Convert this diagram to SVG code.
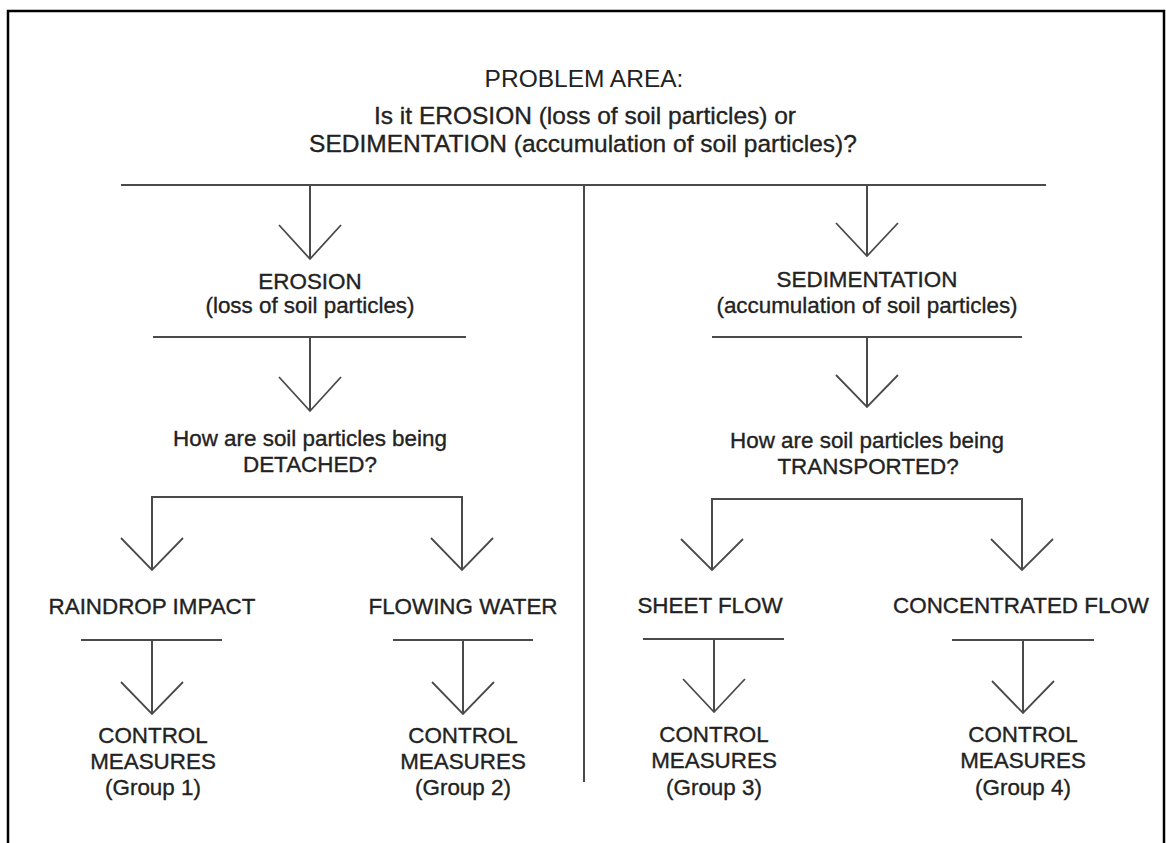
<svg xmlns="http://www.w3.org/2000/svg" width="1166" height="843" viewBox="0 0 1166 843">
  <style>
    .t { font-family: "Liberation Sans", Arial, Helvetica, sans-serif; font-size: 22.4px; fill: #222; stroke: #222; stroke-width: 0.35px; text-anchor: middle; }
    .title { font-size: 24.5px; }
    .thin { stroke: none; }
    .ln { fill: none; stroke: #4a4a4a; stroke-width: 2; stroke-linecap: butt; stroke-linejoin: miter; }
    .ah { fill: none; stroke: #4a4a4a; stroke-width: 1.8; }
    .frame { fill: none; stroke: #000; stroke-width: 2.5; }
  </style>
  <rect x="0" y="0" width="1166" height="843" fill="#fff"/>
  <rect class="frame" x="8" y="11" width="1156" height="850"/>

  <g id="connectors">
    <path class="ln" d="M121 185 H1046"/>
    <path class="ln" d="M584 185 V782"/>
    <path class="ln" d="M310 185 V259"/>
    <path class="ah" d="M279 225 L310 259 L341 225"/>
    <path class="ln" d="M867 185 V256"/>
    <path class="ah" d="M836 223 L867 256 L898 223"/>

    <path class="ln" d="M153 337 H466 M310 337 V411"/>
    <path class="ah" d="M279 377 L310 411 L341 377"/>
    <path class="ln" d="M712 337 H1022 M867 337 V407"/>
    <path class="ah" d="M836 375 L867 407 L898 375"/>

    <path class="ln" d="M152 570 V497 H462 V570"/>
    <path class="ah" d="M121 538 L152 570 L183 538"/>
    <path class="ah" d="M431 538 L462 570 L493 538"/>
    <path class="ln" d="M712 570 V499 H1022 V570"/>
    <path class="ah" d="M681 539 L712 570 L743 539"/>
    <path class="ah" d="M991 539 L1022 570 L1053 539"/>

    <path class="ln" d="M81 640 H222 M152 640 V714"/>
    <path class="ah" d="M121 682 L152 714 L183 682"/>
    <path class="ln" d="M393 640 H533 M463 640 V714"/>
    <path class="ah" d="M432 682 L463 714 L494 682"/>
    <path class="ln" d="M643 639 H784 M714 639 V712"/>
    <path class="ah" d="M683 679 L714 712 L745 679"/>
    <path class="ln" d="M952 640 H1094 M1023 640 V713"/>
    <path class="ah" d="M992 681 L1023 713 L1054 681"/>
  </g>

  <g id="problem-area">
    <text class="t title thin" x="584" y="87">PROBLEM AREA:</text>
    <text class="t title" x="585" y="124">Is it EROSION (loss of soil particles) or</text>
    <text class="t title" x="583" y="152">SEDIMENTATION (accumulation of soil particles)?</text>
  </g>

  <g id="erosion">
    <text class="t" x="310" y="289">EROSION</text>
    <text class="t" x="310" y="313">(loss of soil particles)</text>
  </g>
  <g id="sedimentation">
    <text class="t" x="867" y="287">SEDIMENTATION</text>
    <text class="t" x="867" y="313">(accumulation of soil particles)</text>
  </g>

  <g id="detached-question">
    <text class="t" x="310" y="446">How are soil particles being</text>
    <text class="t" x="310" y="472">DETACHED?</text>
  </g>
  <g id="transported-question">
    <text class="t" x="867" y="448">How are soil particles being</text>
    <text class="t" x="868" y="474">TRANSPORTED?</text>
  </g>

  <g id="raindrop-impact">
    <text class="t" x="152" y="614">RAINDROP IMPACT</text>
  </g>
  <g id="flowing-water">
    <text class="t" x="463" y="614">FLOWING WATER</text>
  </g>
  <g id="sheet-flow">
    <text class="t" x="710" y="613">SHEET FLOW</text>
  </g>
  <g id="concentrated-flow">
    <text class="t" x="1021" y="613">CONCENTRATED FLOW</text>
  </g>

  <g id="control-group-1">
    <text class="t" x="153" y="743">CONTROL</text>
    <text class="t" x="153" y="769">MEASURES</text>
    <text class="t" x="153" y="795">(Group 1)</text>
  </g>
  <g id="control-group-2">
    <text class="t" x="463" y="743">CONTROL</text>
    <text class="t" x="463" y="769">MEASURES</text>
    <text class="t" x="463" y="795">(Group 2)</text>
  </g>
  <g id="control-group-3">
    <text class="t" x="714" y="742">CONTROL</text>
    <text class="t" x="714" y="768">MEASURES</text>
    <text class="t" x="714" y="795">(Group 3)</text>
  </g>
  <g id="control-group-4">
    <text class="t" x="1023" y="742">CONTROL</text>
    <text class="t" x="1023" y="768">MEASURES</text>
    <text class="t" x="1023" y="795">(Group 4)</text>
  </g>
</svg>
